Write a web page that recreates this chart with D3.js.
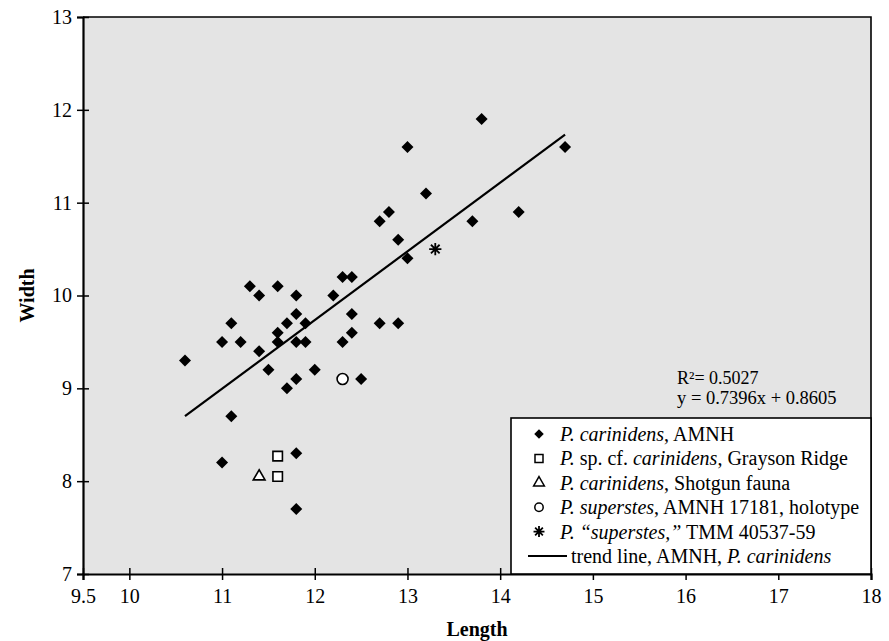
<!DOCTYPE html>
<html>
<head>
<meta charset="utf-8">
<script src="https://cdn.jsdelivr.net/npm/d3@7"></script>
<style>
  body { margin: 0; background: #fff; }
  text { font-family: "Liberation Serif", "Times New Roman", serif; }
</style>
</head>
<body>
<svg width="889" height="641"></svg>
<script>
// P. carinidens, AMNH (length, width)
var amnhLength = [10.6, 11.0, 11.0, 11.1, 11.1, 11.2, 11.3, 11.4, 11.4, 11.5, 11.6, 11.6, 11.6, 11.7, 11.7,
                  11.8, 11.8, 11.8, 11.8, 11.8, 11.8, 11.9, 11.9, 12.0, 12.2, 12.3, 12.3, 12.4, 12.4, 12.4,
                  12.5, 12.7, 12.7, 12.8, 12.9, 12.9, 13.0, 13.0, 13.2, 13.7, 13.8, 14.2, 14.7];
var amnhWidth  = [9.3, 9.5, 8.2, 9.7, 8.7, 9.5, 10.1, 10.0, 9.4, 9.2, 10.1, 9.6, 9.5, 9.7, 9.0,
                  10.0, 9.8, 9.5, 9.1, 8.3, 7.7, 9.7, 9.5, 9.2, 10.0, 10.2, 9.5, 10.2, 9.8, 9.6,
                  9.1, 10.8, 9.7, 10.9, 10.6, 9.7, 11.6, 10.4, 11.1, 10.8, 11.9, 10.9, 11.6];
var graysonLength = [11.6, 11.6];
var graysonWidth  = [8.27, 8.05];
var shotgunLength = [11.4];
var shotgunWidth  = [8.05];
var holotypeLength = [12.3];
var holotypeWidth  = [9.1];
var tmmLength = [13.3];
var tmmWidth  = [10.5];

var trendSlope = 0.7396, trendIntercept = 0.8605, trendR2 = 0.5027;
var trendRange = [10.6, 14.7];

var xTicks = [9.5, 10, 11, 12, 13, 14, 15, 16, 17, 18];
var yTicks = [7, 8, 9, 10, 11, 12, 13];

var legendLabels = [
  [["P. carinidens", true], [", AMNH", false]],
  [["P.", true], [" sp. cf. ", false], ["carinidens", true], [", Grayson Ridge", false]],
  [["P. carinidens", true], [", Shotgun fauna", false]],
  [["P. superstes", true], [", AMNH 17181, holotype", false]],
  [["P. \u201csuperstes,\u201d", true], [" TMM 40537-59", false]],
  [["trend line, AMNH, ", false], ["P. carinidens", true]]
];

var svg = d3.select("svg");

var x = d3.scaleLinear().domain([9.5, 18]).range([83, 871]);
var y = d3.scaleLinear().domain([7, 13]).range([574, 17]);

// plot background
svg.append("rect")
    .attr("x", x(9.5)).attr("y", y(13))
    .attr("width", x(18) - x(9.5)).attr("height", y(7) - y(13))
    .attr("fill", "#e4e4e4");

// top and right frame
svg.append("path")
    .attr("d", "M" + x(9.5) + "," + y(13) + "H" + x(18) + "V" + y(7))
    .attr("fill", "none").attr("stroke", "#000").attr("stroke-width", 1.6);

var fmt = function(d) { return d === 9.5 ? "9.5" : d3.format("d")(d); };

var xAxis = svg.append("g")
    .attr("transform", "translate(0," + y(7) + ")")
    .call(d3.axisBottom(x).tickValues(xTicks).tickFormat(fmt).tickSize(6));
xAxis.select(".domain").attr("stroke-width", 2.2);
xAxis.selectAll(".tick line").attr("y1", -6).attr("y2", 6).attr("stroke-width", 1.5);
xAxis.selectAll(".tick text")
    .attr("y", 29).attr("dy", null)
    .attr("font-size", "20px").attr("font-family", "Liberation Serif, serif").attr("fill", "#000");

var yAxis = svg.append("g")
    .attr("transform", "translate(" + x(9.5) + ",0)")
    .call(d3.axisLeft(y).tickValues(yTicks).tickFormat(d3.format("d")).tickSize(6));
yAxis.select(".domain").attr("stroke-width", 2.2);
yAxis.selectAll(".tick line").attr("x1", -6).attr("x2", 6).attr("stroke-width", 1.5);
yAxis.selectAll(".tick text")
    .attr("x", -11)
    .attr("font-size", "20px").attr("font-family", "Liberation Serif, serif").attr("fill", "#000");

svg.selectAll(".domain").attr("stroke", "#000");

// axis titles
svg.append("text")
    .attr("x", (x(9.5) + x(18)) / 2).attr("y", 636)
    .attr("text-anchor", "middle")
    .attr("font-size", "20px").attr("font-weight", "bold")
    .text("Length");

svg.append("text")
    .attr("transform", "translate(34," + y(10) + ") rotate(-90)")
    .attr("text-anchor", "middle")
    .attr("font-size", "20px").attr("font-weight", "bold")
    .text("Width");

// trend line
svg.append("line")
    .attr("x1", x(trendRange[0])).attr("y1", y(trendSlope * trendRange[0] + trendIntercept))
    .attr("x2", x(trendRange[1])).attr("y2", y(trendSlope * trendRange[1] + trendIntercept))
    .attr("stroke", "#000").attr("stroke-width", 2.2);

// custom asterisk symbol
var asterisk = {
  draw: function(context, size) {
    var r = Math.sqrt(size) / 2;
    for (var i = 0; i < 4; i++) {
      var a = Math.PI / 4 * i;
      context.moveTo(-r * Math.cos(a), -r * Math.sin(a));
      context.lineTo(r * Math.cos(a), r * Math.sin(a));
    }
  }
};

function pairs(xs, ys) {
  return xs.map(function(d, i) { return [d, ys[i]]; });
}

function drawPoints(data, type, size, rot, fill, stroke, sw) {
  svg.append("g").selectAll("path")
    .data(data)
    .enter().append("path")
      .attr("transform", function(d) { return "translate(" + x(d[0]) + "," + y(d[1]) + ") rotate(" + rot + ")"; })
      .attr("d", d3.symbol().type(type).size(size))
      .attr("fill", fill)
      .attr("stroke", stroke)
      .attr("stroke-width", sw);
}

drawPoints(pairs(amnhLength, amnhWidth), d3.symbolSquare, 72, 45, "#000", "none", 0);
drawPoints(pairs(graysonLength, graysonWidth), d3.symbolSquare, 90, 0, "#fff", "#000", 1.6);
drawPoints(pairs(shotgunLength, shotgunWidth), d3.symbolTriangle, 60, 0, "#fff", "#000", 1.6);
drawPoints(pairs(holotypeLength, holotypeWidth), d3.symbolCircle, 95, 0, "#fff", "#000", 1.6);
drawPoints(pairs(tmmLength, tmmWidth), asterisk, 150, 0, "none", "#000", 1.8);

// regression text
svg.append("text")
    .attr("x", 677).attr("y", 384)
    .attr("font-size", "18px")
    .text("R\u00b2= " + trendR2);
svg.append("text")
    .attr("x", 677).attr("y", 404)
    .attr("font-size", "18.5px")
    .text("y = " + trendSlope + "x + " + trendIntercept);

// legend
var legend = svg.append("g");
legend.append("rect")
    .attr("x", 511).attr("y", 418)
    .attr("width", 871 - 511).attr("height", 574 - 418)
    .attr("fill", "#fff").attr("stroke", "#000").attr("stroke-width", 1.6);

var legendSymbols = [
  { type: d3.symbolSquare, size: 45, rot: 45, fill: "#000", stroke: "none", sw: 0 },
  { type: d3.symbolSquare, size: 64, rot: 0, fill: "#fff", stroke: "#000", sw: 1.5 },
  { type: d3.symbolTriangle, size: 50, rot: 0, fill: "#fff", stroke: "#000", sw: 1.5 },
  { type: d3.symbolCircle, size: 55, rot: 0, fill: "#fff", stroke: "#000", sw: 1.5 },
  { type: asterisk, size: 120, rot: 0, fill: "none", stroke: "#000", sw: 1.8 },
  null
];

legendLabels.forEach(function(parts, i) {
  var cy = 434 + i * 24.4;
  var sym = legendSymbols[i];
  if (sym) {
    legend.append("path")
        .attr("transform", "translate(539," + cy + ") rotate(" + sym.rot + ")")
        .attr("d", d3.symbol().type(sym.type).size(sym.size))
        .attr("fill", sym.fill).attr("stroke", sym.stroke).attr("stroke-width", sym.sw);
  } else {
    legend.append("line")
        .attr("x1", 528).attr("x2", 567).attr("y1", cy).attr("y2", cy)
        .attr("stroke", "#000").attr("stroke-width", 2.2);
  }
  var t = legend.append("text")
      .attr("x", sym ? 560 : 571).attr("y", cy + 7)
      .attr("font-size", "20px");
  parts.forEach(function(p) {
    t.append("tspan").attr("font-style", p[1] ? "italic" : "normal").text(p[0]);
  });
});
</script>
</body>
</html>
